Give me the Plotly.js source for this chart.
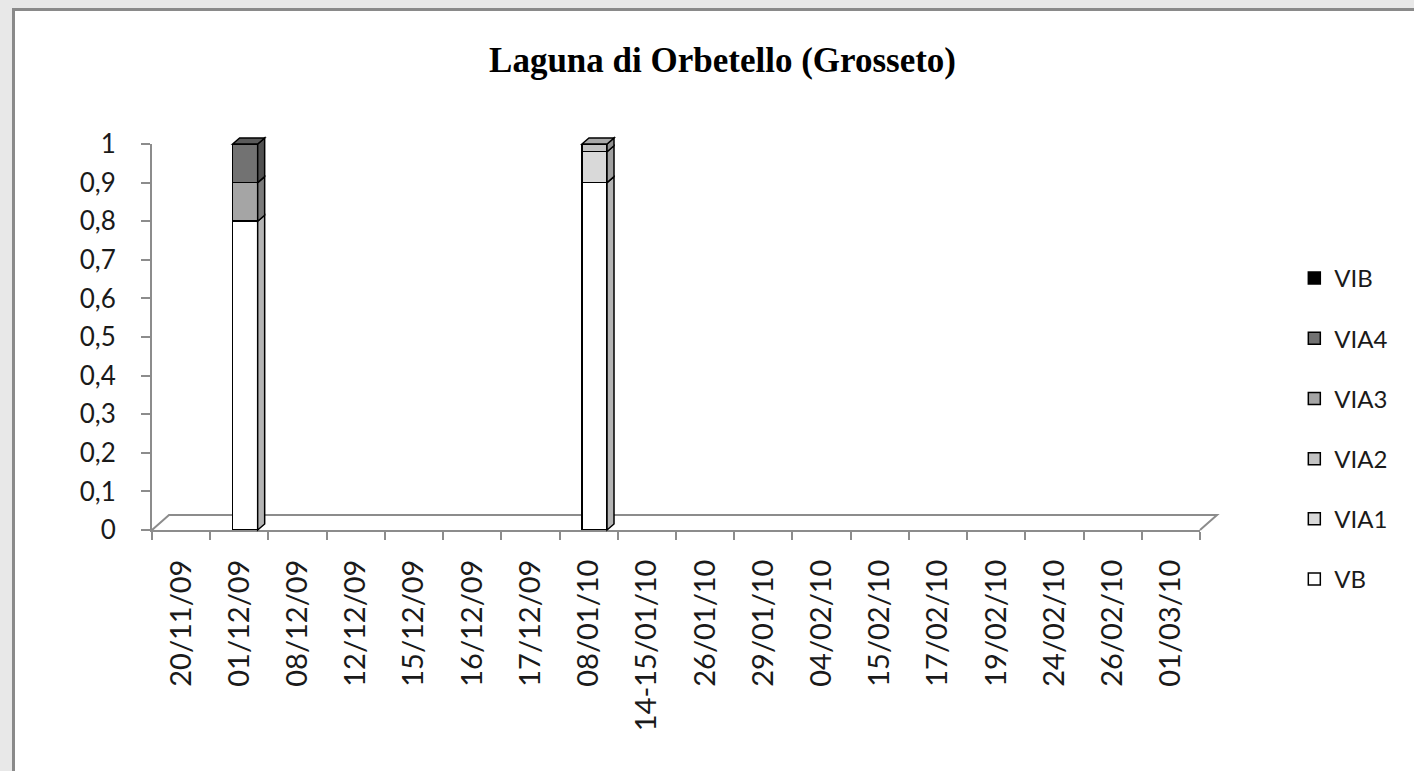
<!DOCTYPE html>
<html>
<head>
<meta charset="utf-8">
<script src="https://cdn.plot.ly/plotly-3.0.1.min.js"></script>
<style>
  html, body { margin:0; padding:0; width:1414px; height:771px; overflow:hidden; background:#e8e8e8; }
  #panel { position:absolute; left:12px; top:8px; width:1402px; height:763px; background:#ffffff;
           border-left:3px solid #8a8a8a; border-top:3px solid #8a8a8a; box-sizing:border-box; }
  #chart { position:absolute; left:0; top:0; width:1414px; height:771px; }
</style>
</head>
<body>
<div id="panel"></div>
<div id="chart"></div>
<script>
// ---- data ----
const categories = ["20/11/09","01/12/09","08/12/09","12/12/09","15/12/09","16/12/09","17/12/09",
  "08/01/10","14-15/01/10","26/01/10","29/01/10","04/02/10","15/02/10","17/02/10","19/02/10",
  "24/02/10","26/02/10","01/03/10"];
const seriesNames = ["VB","VIA1","VIA2","VIA3","VIA4","VIB"];
const VB   = [0,0.8,0,0,0,0,0,0.9,0,0,0,0,0,0,0,0,0,0];
const VIA1 = [0,0,0,0,0,0,0,0.08,0,0,0,0,0,0,0,0,0,0];
const VIA2 = [0,0,0,0,0,0,0,0.02,0,0,0,0,0,0,0,0,0,0];
const VIA3 = [0,0.1,0,0,0,0,0,0,0,0,0,0,0,0,0,0,0,0];
const VIA4 = [0,0.1,0,0,0,0,0,0,0,0,0,0,0,0,0,0,0,0];
const VIB  = [0,0,0,0,0,0,0,0,0,0,0,0,0,0,0,0,0,0];
const yTicks = [0,0.1,0.2,0.3,0.4,0.5,0.6,0.7,0.8,0.9,1];

// ---- styles ----
const seriesValues = [VB, VIA1, VIA2, VIA3, VIA4, VIB];
const frontColors = ["#ffffff","#d9d9d9","#c3c3c3","#a5a5a5","#727272","#000000"];
const sideColors  = ["#b4b4b4","#a0a0a0","#909090","#7a7a7a","#505050","#000000"];
const topColors   = ["#d0d0d0","#bdbdbd","#a8a8a8","#8c8c8c","#5a5a5a","#000000"];
const BARGAP = 0.57;
const HALF = (1 - BARGAP) / 2;
const SHIFT = 0.1;          // 3D perspective shift of the bars inside each category
const FONT = "Lato, 'Open Sans', sans-serif";

const traces = seriesNames.map((name, s) => ({
  type: "bar",
  name: name,
  x: categories,
  y: seriesValues[s].map(v => v > 0 ? v : null),
  offset: -HALF + SHIFT,
  legendgroup: name,
  legendrank: 100 - s,
  marker: { color: frontColors[s], line: { color: "#000000", width: 1.5 } },
  hoverinfo: "x+y+name"
}));

const layout = {
  width: 1414, height: 771,
  paper_bgcolor: "rgba(0,0,0,0)",
  plot_bgcolor: "rgba(0,0,0,0)",
  separators: ",.",
  barmode: "stack",
  bargap: BARGAP,
  margin: { l: 152, r: 214, t: 144, b: 241 },
  font: { family: FONT, size: 24, color: "#1a1a1a" },
  title: {
    text: "Laguna di Orbetello (Grosseto)",
    font: { family: "'Liberation Serif', 'Times New Roman', serif", size: 35, color: "#000000", weight: "bold" },
    x: 0.511, xref: "container", xanchor: "center",
    y: 1 - 60/771, yref: "container", yanchor: "middle"
  },
  xaxis: {
    type: "category",
    tickangle: -90,
    tickson: "boundaries",
    ticks: "outside", ticklen: 8, tickwidth: 2, tickcolor: "#8c8c8c",
    showline: true, linecolor: "#8c8c8c", linewidth: 2,
    showgrid: false, zeroline: false,
    ticklabelstandoff: 16,
    tickfont: { family: FONT, size: 29, color: "#1a1a1a" }
  },
  yaxis: {
    range: [0, 1],
    tickvals: yTicks,
    ticks: "outside", ticklen: 9, tickwidth: 2, tickcolor: "#8c8c8c",
    showline: true, linecolor: "#8c8c8c", linewidth: 2,
    showgrid: false, zeroline: false,
    ticklabelstandoff: 20,
    tickfont: { family: FONT, size: 26, color: "#1a1a1a" }
  },
  legend: {
    x: 1.09, xanchor: "left",
    y: 0.71, yanchor: "top",
    traceorder: "grouped",
    tracegroupgap: 26,
    font: { family: FONT, size: 24, color: "#1a1a1a" },
    bgcolor: "rgba(0,0,0,0)"
  },
  showlegend: true
};

const gd = document.getElementById("chart");
Plotly.newPlot(gd, traces, layout, { displayModeBar: false }).then(() => {
  const xa = gd._fullLayout.xaxis;
  const ya = gd._fullLayout.yaxis;
  // data -> paper conversion through the library's own axis scales
  const px = v => xa.l2p(v) / xa._length;
  const py = v => 1 - ya.l2p(v) / ya._length;
  const dx = 7 / xa._length, dy = 6 / ya._length;      // bar depth
  const fdx = 17 / xa._length, fdy = 15 / ya._length;  // floor depth
  const shapes = [];
  // floor
  const x0 = px(-0.5), x1 = px(categories.length - 0.5), y0f = py(0);
  shapes.push({
    type: "path", xref: "paper", yref: "paper", layer: "below",
    path: `M${x0},${y0f} L${x0+fdx},${y0f+fdy} L${x1+fdx},${y0f+fdy} L${x1},${y0f}`,
    line: { color: "#8c8c8c", width: 2 }
  });
  // 3D bar faces
  categories.forEach((c, i) => {
    let base = 0, topIdx = -1;
    const xl = px(i - HALF + SHIFT), xr = px(i + HALF + SHIFT);
    seriesValues.forEach((vals, s) => {
      const v = vals[i];
      if (v > 0) {
        const ya0 = py(base), ya1 = py(base + v);
        shapes.push({
          type: "path", xref: "paper", yref: "paper",
          path: `M${xr},${ya0} L${xr+dx},${ya0+dy} L${xr+dx},${ya1+dy} L${xr},${ya1} Z`,
          fillcolor: sideColors[s], line: { color: "#000000", width: 1.5 }
        });
        base += v;
        topIdx = s;
      }
    });
    if (topIdx >= 0) {
      const yt = py(base);
      shapes.push({
        type: "path", xref: "paper", yref: "paper",
        path: `M${xl},${yt} L${xl+dx},${yt+dy} L${xr+dx},${yt+dy} L${xr},${yt} Z`,
        fillcolor: topColors[topIdx], line: { color: "#000000", width: 1.5 }
      });
    }
  });
  return Plotly.relayout(gd, { shapes: shapes });
});
</script>
</body>
</html>
